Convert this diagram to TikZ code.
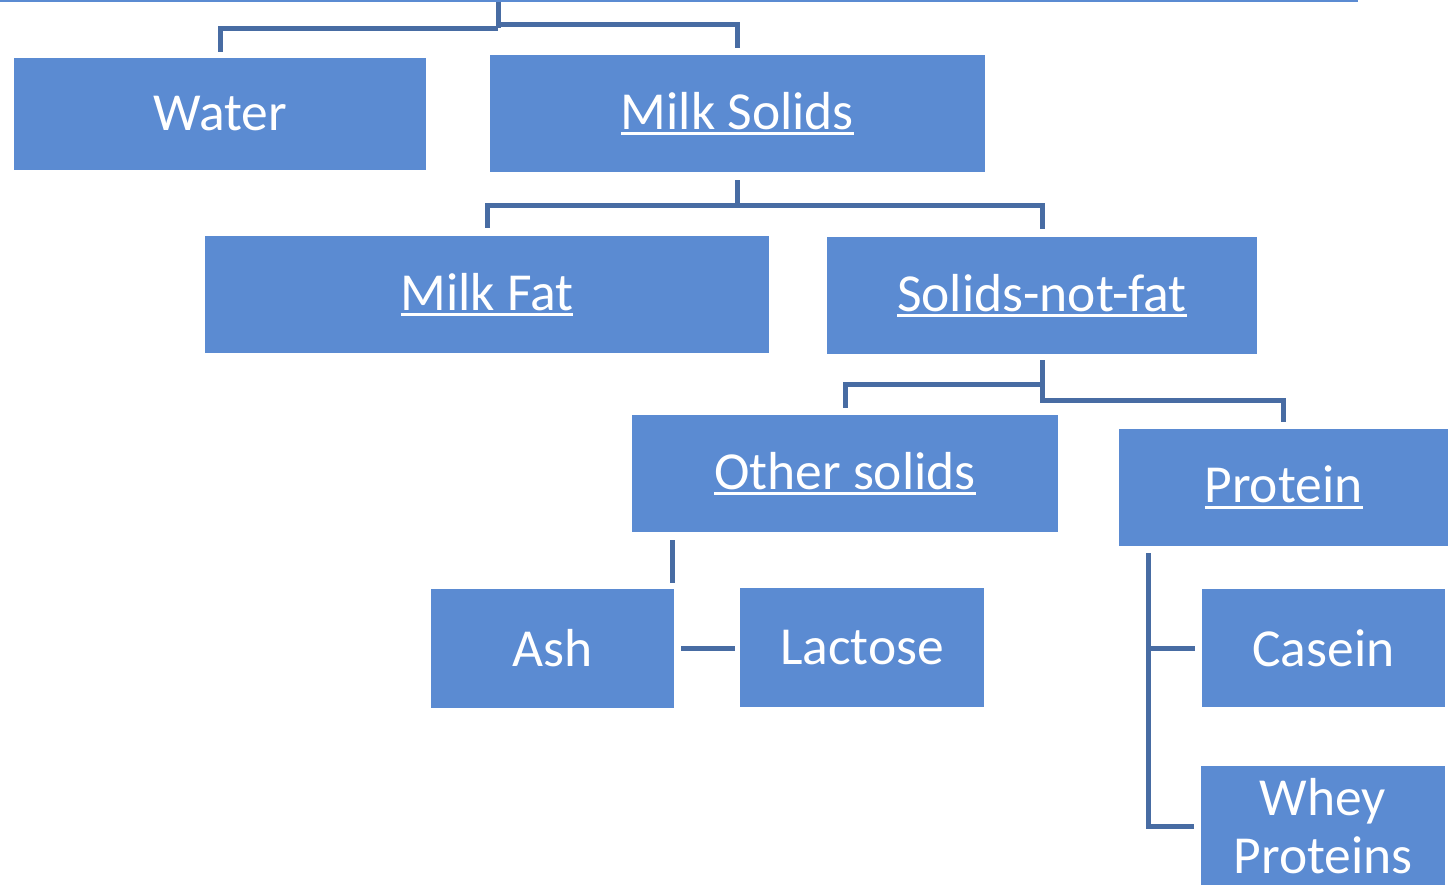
\documentclass[tikz,border=0pt]{standalone}
\usepackage{fontspec}
\setmainfont{Carlito}
\usetikzlibrary{positioning}
\definecolor{boxblue}{RGB}{91,139,210}
\definecolor{linkblue}{RGB}{72,108,163}
\newcommand{\undl}[1]{\setbox0\hbox{#1}\leavevmode\rlap{\rule[-0.11em]{\wd0}{0.05em}}\box0}
\tikzset{
  box/.style={fill=boxblue, text=white, inner sep=0pt, align=center,
    font=\fontsize{53.5}{58}\selectfont},
  link/.style={draw=linkblue, line width=5pt},
}
\begin{document}
\begin{tikzpicture}[x=1pt, y=-1pt]
    \clip (0,0) rectangle (1450,884);
    \useasboundingbox (0,0) rectangle (1450,884);

    % boxes
    \node[box, anchor=south west, minimum width=1358pt, minimum height=62pt] (root) at (0,2) {};
    \node[box, minimum width=412pt, minimum height=112pt] (water) at (220,114) {Water};
    \node[box, minimum width=495pt, minimum height=117pt] (milksolids) at (737.5,113.5) {\undl{Milk Solids}};
    \node[box, minimum width=564pt, minimum height=117pt] (milkfat) at (487,294.5) {\undl{Milk Fat}};
    \node[box, minimum width=430pt, minimum height=117pt] (snf) at (1042,295.5) {\undl{Solids-not-fat}};
    \node[box, minimum width=426pt, minimum height=117pt] (other) at (845,473.5) {\undl{Other solids}};
    \node[box, minimum width=329pt, minimum height=117pt] (protein) at (1283.5,487.5) {\undl{Protein}};
    \node[box, minimum width=243pt, minimum height=119pt] (ash) at (552.5,648.5) {Ash};
    \node[box, minimum width=244pt, minimum height=119pt] (lactose) at (862,647.5) {Lactose};
    \node[box, minimum width=243pt, minimum height=118pt] (casein) at (1323.5,648) {Casein};
    \node[box, minimum width=244pt, minimum height=120pt] (whey) at (1323,826) {Whey\\Proteins};

    % connectors
    \coordinate (rootfoot) at (498,28);
    \draw[link] (root.south -| rootfoot) -- (rootfoot);
    \draw[link] (rootfoot) -| ([yshift=6pt]water.north);
    \draw[link] ([yshift=4pt]rootfoot) -| ([yshift=7pt]milksolids.north);

    \draw[link] ([yshift=-8pt]milksolids.south) -- ([yshift=-33pt]milksolids.south);
    \draw[link] ([yshift=8pt]milkfat.north) |- ([yshift=-33pt]milksolids.south) -| ([yshift=8pt]snf.north);

    \draw[link] ([yshift=-6pt]snf.south) -- ([yshift=-46pt]snf.south) -| ([yshift=7pt]protein.north);
    \draw[link] ([yshift=-30pt]snf.south) -| ([yshift=7pt]other.north);

    \draw[link] ([shift={(-2,-6)}]ash.north east) -- ([shift={(-2,-49)}]ash.north east);
    \draw[link] ([xshift=7pt]ash.east) -- ([xshift=-5pt]ash.east -| lactose.west);

    \draw[link] ([shift={(30,7)}]protein.south west) |- ([xshift=-7pt]whey.west);
    \draw[link] ([xshift=-7pt]casein.west) -- ++(-46,0);
\end{tikzpicture}
\end{document}
